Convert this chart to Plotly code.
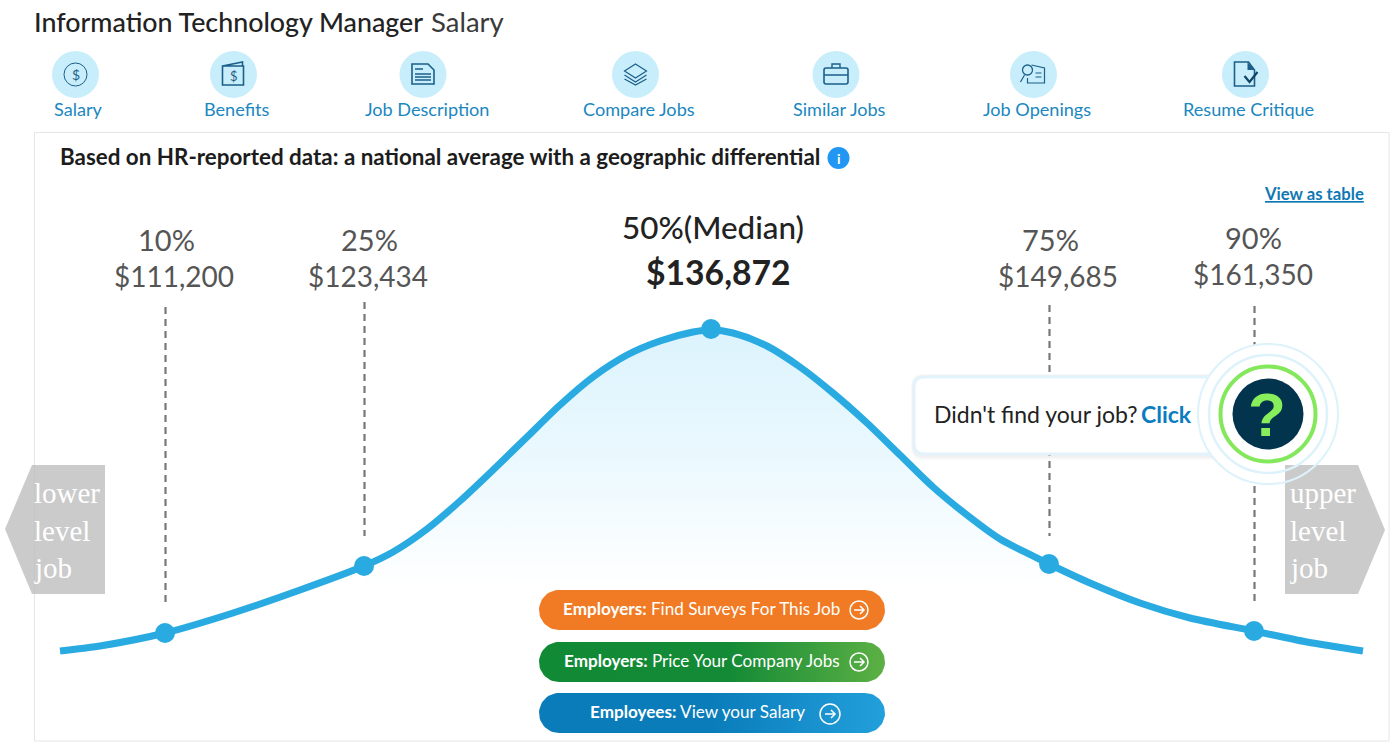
import numpy as np
import plotly.graph_objects as go

# ---- data ----
curve_x = [60, 100, 165, 233, 300, 364, 393, 427, 460, 493, 527, 560, 593, 627, 660, 693, 711, 733, 767, 800, 833, 867, 900, 933, 967, 1000, 1033, 1049, 1090, 1140, 1190, 1254, 1307, 1363]
curve_y = [651, 646, 633, 613, 590, 566, 552, 529, 501, 470, 437, 405, 377, 355, 341, 332, 330, 333, 346, 367, 393, 423, 455, 487, 515, 539, 556, 564, 583, 603, 618, 631, 642, 651]
pct_x = [165, 364, 711, 1049, 1254]
pct_y = [633, 566, 329, 564, 631]
pct_labels = ["10%", "25%", "50%(Median)", "75%", "90%"]
salaries = ["$111,200", "$123,434", "$136,872", "$149,685", "$161,350"]
nav_labels = ["Salary", "Benefits", "Job Description", "Compare Jobs", "Similar Jobs", "Job Openings", "Resume Critique"]

# ---- styling / layout ----
FONT = "Lato"
BLUE = "#29abe2"
ICON = "#1b5f8a"
LINK = "#1a87c0"
W, H = 1392, 742

fig = go.Figure()
shapes, notes = [], []


def text(x, y, s, size, color="#222222", anchor="center", font=FONT, weight=None, vanchor="middle"):
    f = dict(family=font, size=size, color=color)
    if weight:
        f["weight"] = weight
    notes.append(dict(x=x, y=y - 1, xref="x", yref="y", text=s, showarrow=False, xanchor=anchor,
                      yanchor=vanchor, font=f, align="left", borderpad=0, borderwidth=0))


def circle(cx, cy, r, fill="rgba(0,0,0,0)", line=None, lw=1, layer="above"):
    shapes.append(dict(type="circle", x0=cx - r, x1=cx + r, y0=cy - r, y1=cy + r, fillcolor=fill,
                       line=dict(color=line or "rgba(0,0,0,0)", width=lw if line else 0), layer=layer))


def path(d, fill="rgba(0,0,0,0)", line=None, lw=1.5, layer="above"):
    ln = dict(color=line or "rgba(0,0,0,0)", width=lw if line else 0)
    shapes.append(dict(type="path", path=d, fillcolor=fill, line=ln, layer=layer))


def rrect(x0, y0, x1, y1, r):
    return (f"M{x0+r},{y0} L{x1-r},{y0} Q{x1},{y0} {x1},{y0+r} L{x1},{y1-r} Q{x1},{y1} {x1-r},{y1} "
            f"L{x0+r},{y1} Q{x0},{y1} {x0},{y1-r} L{x0},{y0+r} Q{x0},{y0} {x0+r},{y0} Z")


def pill_trace(x0, y0, x1, y1, colors):
    r = (y1 - y0) / 2
    t = np.linspace(-np.pi / 2, np.pi / 2, 30)
    xs = np.concatenate([x1 - r + r * np.cos(t), x0 + r - r * np.cos(t[::-1])])
    ys = np.concatenate([(y0 + y1) / 2 + r * np.sin(t), (y0 + y1) / 2 + r * np.sin(t[::-1])])
    fig.add_trace(go.Scatter(x=xs, y=ys, mode="lines", fill="toself", line=dict(width=0, color=colors[0][1]),
                             fillgradient=dict(type="horizontal", colorscale=colors, start=x0, stop=x1),
                             hoverinfo="skip", showlegend=False))


# card
shapes.append(dict(type="rect", x0=34.5, x1=1389, y0=132.5, y1=741, line=dict(color="#e6e6e6", width=1),
                   fillcolor="white", layer="below"))

# area under the curve
i0, i1 = curve_x.index(364), curve_x.index(1049)
fx = curve_x[i0:i1 + 1]
fy = curve_y[i0:i1 + 1]
fig.add_trace(go.Scatter(x=fx + [fx[-1], fx[0]], y=fy + [590, 590], mode="lines", fill="toself",
                         line=dict(width=0, color="white"),
                         fillgradient=dict(type="vertical", start=329, stop=590,
                                           colorscale=[[0, "#dcf3fd"], [0.45, "#e9f8fe"], [1, "#ffffff"]]),
                         hoverinfo="skip", showlegend=False))

# dashed percentile droplines
drop_tops = [307, 302, 305, 306]
drop_bottoms = [602, 536, 536, 602]
for x, a, b in zip([pct_x[0], pct_x[1], pct_x[3], pct_x[4]], drop_tops, drop_bottoms):
    fig.add_trace(go.Scatter(x=[x + 0.5, x + 0.5], y=[a, b], mode="lines", hoverinfo="skip", showlegend=False,
                             line=dict(color="#777777", width=2.2, dash="7px 5px")))

# curve and points
fig.add_trace(go.Scatter(x=curve_x, y=curve_y, mode="lines", hoverinfo="skip", showlegend=False,
                         line=dict(color=BLUE, width=7, shape="spline", smoothing=0.8)))
fig.add_trace(go.Scatter(x=pct_x, y=pct_y, mode="markers", hoverinfo="skip", showlegend=False,
                         marker=dict(color=BLUE, size=20, line=dict(width=0))))

# action buttons
pill_trace(539, 590, 885, 630, [[0, "#f07b24"], [1, "#f07b24"]])
pill_trace(539, 642, 885, 682, [[0, "#118a35"], [0.55, "#148a36"], [1, "#5cb044"]])
pill_trace(539, 693, 885, 733, [[0, "#0a7cba"], [0.5, "#0a7cba"], [1, "#22a0dc"]])
text(701.5, 609, "<b>Employers:</b> Find Surveys For This Job", 17.1, "white")
text(701.5, 661, "<b>Employers:</b> Price Your Company Jobs", 17.1, "white")
text(697, 712, "<b>Employees:</b> View your Salary", 17.1, "white")
for cx, cy, r in [(859, 610, 9), (859, 662, 9), (830, 714, 10)]:
    circle(cx, cy, r, line="white", lw=1.5)
    path(f"M{cx-5},{cy} L{cx+5},{cy} M{cx+1},{cy-4} L{cx+5},{cy} L{cx+1},{cy+4}", line="white", lw=1.5)

# left gray arrow
path("M5,529 L32,465 L105,465 L105,594 L32,594 Z", fill="rgba(190,190,190,0.8)")

# nav bubbles
nav_cx = [75.5, 233.5, 423, 635.5, 836, 1033.5, 1245.5]
nav_tx = [78, 237, 427, 638.5, 839, 1037, 1248]
for cx, tx, s in zip(nav_cx, nav_tx, nav_labels):
    circle(cx, 74.5, 23.5, fill="#c9eefb")
    text(tx, 109.5, s, 18.1, LINK)

# nav icons
cx = nav_cx[0]
circle(cx, 74.5, 11.5, line=ICON)
text(cx, 75.5, "$", 14, ICON)
cx = nav_cx[1]
path(f"M{cx-11},66 L{cx+10},66 L{cx+10},85 L{cx-11},85 Z M{cx-11},66 L{cx+9},62 L{cx+9},66", line=ICON, lw=1.6)
text(cx, 77, "$", 13, ICON)
cx = nav_cx[2]
path(f"M{cx-11},64 L{cx+5},64 L{cx+11},70 L{cx+11},84 L{cx-11},84 Z", line=ICON, lw=1.6)
path(f"M{cx-8},69 L{cx},69 M{cx-8},74 L{cx+8},74 M{cx-8},77 L{cx+8},77 M{cx-8},80 L{cx+8},80", line=ICON, lw=1.4)
cx = nav_cx[3]
path(f"M{cx},64 L{cx+11},71 L{cx},78 L{cx-11},71 Z", line=ICON, lw=1.2)
path(f"M{cx-11},75 L{cx},82 L{cx+11},75 M{cx-11},79 L{cx},85 L{cx+11},79", line=ICON, lw=1.2)
cx = nav_cx[4]
path(rrect(cx - 12, 68, cx + 12, 84, 2), line=ICON, lw=1.6)
path(f"M{cx-4},68 L{cx-4},64 L{cx+4},64 L{cx+4},68 M{cx-12},75 L{cx+12},75", line=ICON, lw=1.4)
cx = nav_cx[5]
circle(cx - 6, 70, 5, line=ICON, lw=1.3)
path(f"M{cx-9},75 L{cx-13},82 M{cx-2},65 L{cx+11},68 L{cx+11},83 L{cx-6},83 L{cx-6},78", line=ICON, lw=1.2)
path(f"M{cx+2},73 L{cx+8},73 M{cx+2},77 L{cx+8},77", line=ICON, lw=1.2)
cx = nav_cx[6]
path(f"M{cx-11},62 L{cx+3},62 L{cx+9},70 L{cx+9},86 L{cx-11},86 Z", line=ICON, lw=1.6, fill="#c9eefb")
path(f"M{cx+2},62 L{cx+9},70 L{cx+2},70 Z", fill=ICON)
path(f"M{cx-1},76 L{cx+4},82 L{cx+12},72", line="#0f4468", lw=2.2)

# popup with soft shadow
path(rrect(911, 374, 1232, 460, 13), fill="rgba(60,60,60,0.03)")
path(rrect(912, 375, 1232, 458, 12), fill="rgba(60,60,60,0.04)")
path(rrect(914, 377, 1232, 454, 10), fill="white", line="#e3f3fb", lw=3)
text(934, 414.5, "Didn't find your job?", 23, "#222222", anchor="left")
text(1141, 414.5, "<b>Click</b>", 23, "#0a7cc0", anchor="left")

# help badge: white disc hides what lies below, gray arrow shows through rings
circle(1268, 414, 70, fill="white")
path("M1285,465 L1358,465 L1385,530 L1358,594 L1285,594 Z", fill="rgba(190,190,190,0.8)")
circle(1268, 414, 70, line="#ddf2fb", lw=2)
circle(1268, 414, 59, line="#ddf2fb", lw=2.5)
circle(1268, 414, 47.5, fill="white", line="#84e85c", lw=4)
circle(1268, 414, 35.5, fill="#03344d")
text(1267, 415, "<b>?</b>", 62, "#88ee5c", font="Liberation Sans")

# header
text(34, 22.5, "Information Technology Manager", 26.8, "#222222", anchor="left", weight=500)
text(431, 22.5, "Salary", 27.5, "#3a3a3a", anchor="left")
text(60, 157.5, "<b>Based on HR-reported data: a national average with a geographic differential</b>", 22.4, "#1c1c1c", anchor="left")
circle(838.5, 158, 11, fill="#2196f3")
text(838.5, 159, "<b>i</b>", 14, "white")
text(1364, 194.5, "<b><u>View as table</u></b>", 16.7, "#0f78b4", anchor="right")

# percentile labels
label_x = [166, 369, 713, 1050, 1253]
label_y = [240.5, 240.5, 227.5, 240.5, 238.5]
value_x = [174, 368, 718, 1058, 1253]
value_y = [276.5, 276.5, 272.5, 276.5, 274.5]
for i in range(5):
    if i == 2:
        text(label_x[i], label_y[i], pct_labels[i], 31.4, "#222222", weight=500)
        text(value_x[i], value_y[i], f"<b>{salaries[i]}</b>", 33.7, "#222222")
    else:
        text(label_x[i], label_y[i], pct_labels[i], 29, "#555555")
        text(value_x[i], value_y[i], salaries[i], 28, "#555555")

# side arrow text
for x, words in [(34, ["lower", "level", "job"]), (1290, ["upper", "level", "job"])]:
    for y, w in zip([494, 532, 569], words):
        text(x, y, w, 29, "white", anchor="left", font="Liberation Serif")

fig.update_layout(
    width=W, height=H, autosize=False, margin=dict(l=0, r=0, t=0, b=0),
    paper_bgcolor="white", plot_bgcolor="white", showlegend=False, hovermode=False,
    xaxis=dict(range=[0, W], visible=False, fixedrange=True),
    yaxis=dict(range=[H, 0], visible=False, fixedrange=True),
    shapes=shapes, annotations=notes,
)
fig.write_html("out.html", config=dict(displayModeBar=False),
               post_script="document.body.style.margin='0';document.body.style.overflow='hidden';")
